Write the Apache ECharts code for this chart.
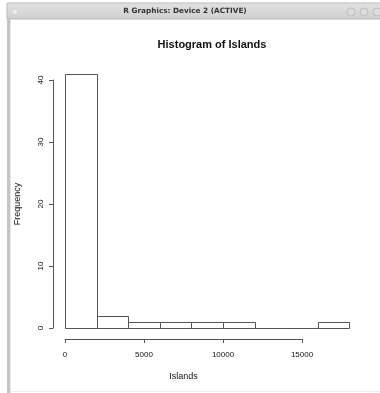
<!DOCTYPE html>
<html><head><meta charset="utf-8">
<script src="https://cdn.jsdelivr.net/npm/echarts@6/dist/echarts.min.js"></script>
<style>html,body{margin:0;padding:0;background:#fff}#c{width:380px;height:393px}</style>
</head><body><div id="c"></div>
<script>
// Histogram of islands (R datasets), default breaks
const binStarts = [0, 2000, 4000, 6000, 8000, 10000, 12000, 14000, 16000];
const binEnds   = [2000, 4000, 6000, 8000, 10000, 12000, 14000, 16000, 18000];
const counts    = [41, 2, 1, 1, 1, 1, 0, 0, 1];
const xTicks = [0, 5000, 10000, 15000];
const yTicks = [0, 10, 20, 30, 40];

const FONT = '"Liberation Sans", Arial, sans-serif';
const ink = '#555';

const chart = echarts.init(document.getElementById('c'), null, {renderer: 'canvas'});
const histData = binStarts.map((s, i) => [s, binEnds[i], counts[i]]);

chart.setOption({
  animation: false,
  backgroundColor: '#fff',
  title: {
    text: 'Histogram of Islands', left: 207, top: 34, textAlign: 'center',
    textStyle: {fontFamily: FONT, fontSize: 11, fontWeight: 'bold', color: '#111'}
  },
  graphic: [
    // window frame
    {type: 'rect', shape: {x: 7, y: 3, width: 380, height: 16},
     style: {fill: new echarts.graphic.LinearGradient(0,0,0,1,[{offset:0,color:'#e2e2e2'},{offset:1,color:'#cfcfcf'}]), stroke: '#bbb', lineWidth: 1}, z: 10},
    {type: 'rect', shape: {x: 7, y: 19, width: 3, height: 380}, style: {fill: '#c4c4c4'}, z: 10},
    {type: 'line', shape: {x1: 10.5, y1: 19, x2: 10.5, y2: 393}, style: {stroke: '#e6e6e6', lineWidth: 1}, z: 10},
    {type: 'line', shape: {x1: 10, y1: 391.5, x2: 380, y2: 391.5}, style: {stroke: '#ececec', lineWidth: 1}, z: 10},
    {type: 'circle', shape: {cx: 15, cy: 12, r: 2}, style: {fill: '#f0f0f0'}, z: 11},
    {type: 'text', x: 185, y: 11.5, style: {text: 'R Graphics: Device 2 (ACTIVE)', font: 'bold 7.3px "DejaVu Sans", sans-serif', fill: '#333', align: 'center', verticalAlign: 'middle'}, z: 11},
    {type: 'circle', shape: {cx: 351, cy: 12, r: 4}, style: {fill: '#dcdcdc', stroke: '#bdbdbd', lineWidth: 1}, z: 11},
    {type: 'circle', shape: {cx: 364, cy: 12, r: 4}, style: {fill: '#dcdcdc', stroke: '#bdbdbd', lineWidth: 1}, z: 11},
    {type: 'circle', shape: {cx: 377, cy: 12, r: 4}, style: {fill: '#dcdcdc', stroke: '#bdbdbd', lineWidth: 1}, z: 11}
  ],
  grid: [
    {left: 65, width: 284.4, top: 80, height: 248},   // bars
    {left: 65, width: 237, top: 300, height: 39},     // x axis
    {left: 53, width: 1, top: 80, height: 248}        // y axis
  ],
  xAxis: [
    {gridIndex: 0, type: 'value', min: 0, max: 18000, show: false},
    {gridIndex: 1, type: 'value', min: 0, max: 15000, interval: 5000, position: 'bottom',
     axisLine: {show: true, lineStyle: {color: ink, width: 1}},
     axisTick: {show: true, length: 4, lineStyle: {color: ink}},
     splitLine: {show: false},
     axisLabel: {fontFamily: FONT, fontSize: 8, color: '#111', margin: 12,
       formatter: v => xTicks.includes(v) ? String(v) : ''},
     name: 'Islands', nameLocation: 'middle', nameGap: 33,
     nameTextStyle: {fontFamily: FONT, fontSize: 9, color: '#111'}},
    {gridIndex: 2, type: 'value', show: false}
  ],
  yAxis: [
    {gridIndex: 0, type: 'value', min: 0, max: 40, show: false},
    {gridIndex: 1, type: 'value', show: false},
    {gridIndex: 2, type: 'value', min: 0, max: 40, interval: 10, position: 'left',
     axisLine: {show: true, lineStyle: {color: ink, width: 1}},
     axisTick: {show: true, length: 4, lineStyle: {color: ink}},
     splitLine: {show: false},
     axisLabel: {fontFamily: FONT, fontSize: 8, color: '#111', rotate: 90, margin: 8,
       formatter: v => yTicks.includes(v) ? String(v) : ''},
     name: 'Frequency', nameLocation: 'middle', nameGap: 31, nameRotate: 90,
     nameTextStyle: {fontFamily: FONT, fontSize: 9, color: '#111'}}
  ],
  series: [{
    type: 'custom', xAxisIndex: 0, yAxisIndex: 0, clip: false,
    data: histData,
    renderItem: function (params, api) {
      const p0 = api.coord([api.value(0), 0]);
      const p1 = api.coord([api.value(1), api.value(2)]);
      const x0 = Math.round(p0[0]) + 0.5, x1 = Math.round(p1[0]) + 0.5;
      const y0 = Math.round(p0[1]) + 0.5, y1 = Math.round(p1[1]) + 0.5;
      return {type: 'rect', shape: {x: x0, y: y1, width: x1 - x0, height: y0 - y1},
        style: {fill: '#fff', stroke: ink, lineWidth: 1}};
    }
  }]
});
</script></body></html>
